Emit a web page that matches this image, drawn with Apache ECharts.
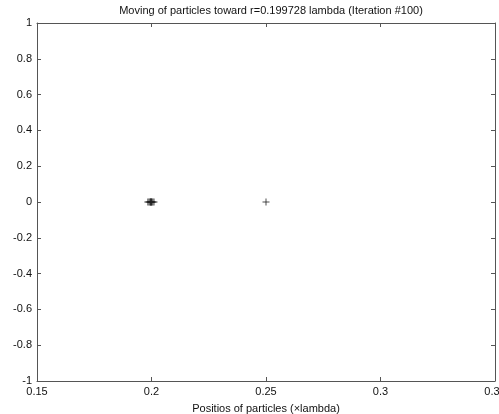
<!DOCTYPE html>
<html>
<head>
<meta charset="utf-8">
<script src="https://cdn.jsdelivr.net/npm/echarts@6/dist/echarts.min.js"></script>
<style>
  html, body { margin: 0; padding: 0; background: #fff; }
  #myChart { width: 499px; height: 414px; }
</style>
</head>
<body>
<div id="myChart"></div>
<script>
// particle positions (x lambda), all on y = 0
var particleX = [0.1984, 0.1989, 0.1993, 0.1996, 0.1997, 0.1998, 0.2000, 0.2002, 0.2006, 0.2011, 0.25];
var particleY = [0, 0, 0, 0, 0, 0, 0, 0, 0, 0, 0];

var xTicks = [0.15, 0.2, 0.25, 0.3, 0.35];
var yTicks = [-1, -0.8, -0.6, -0.4, -0.2, 0, 0.2, 0.4, 0.6, 0.8, 1];

var titleText = 'Moving of particles toward r=0.199728 lambda (Iteration #100)';
var xName = 'Positios of particles (\u00d7lambda)';

var pts = [];
for (var i = 0; i < particleX.length; i++) {
    pts.push([particleX[i], particleY[i]]);
}

var lineCol = '#555';
var fnt = 'Liberation Sans, Arial, sans-serif';

function boxAxis(pos, showLabel, isX) {
    var a = {
        type: 'value',
        position: pos,
        min: isX ? 0.15 : -1,
        max: isX ? 0.35 : 1,
        interval: isX ? 0.05 : 0.2,
        splitLine: { show: false },
        axisLine: { show: true, onZero: false, lineStyle: { color: lineCol, width: 1 } },
        axisTick: { show: true, inside: true, length: 4, lineStyle: { color: lineCol } },
        axisLabel: {
            show: showLabel,
            color: '#111',
            fontFamily: fnt,
            fontSize: 11,
            margin: isX ? 5 : 5,
            formatter: function (v) { return String(+v.toFixed(2)); }
        }
    };
    return a;
}

var myChart = echarts.init(document.getElementById('myChart'), null, { renderer: 'canvas' });

var xa = boxAxis('bottom', true, true);
xa.name = xName;
xa.nameLocation = 'middle';
xa.nameGap = 22;
xa.nameTextStyle = { color: '#111', fontFamily: fnt, fontSize: 11 };
var xa2 = boxAxis('top', false, true);
var ya = boxAxis('left', true, false);
var ya2 = boxAxis('right', false, false);

myChart.setOption({
    animation: false,
    backgroundColor: '#fff',
    title: {
        text: titleText,
        left: 266,
        top: 0,
        textAlign: 'center',
        textStyle: { fontFamily: fnt, fontSize: 11, fontWeight: 'normal', color: '#111' }
    },
    grid: { left: 37, right: 4, top: 23, bottom: 33, containLabel: false, outerBoundsMode: 'none' },
    xAxis: [xa, xa2],
    yAxis: [ya, ya2],
    series: [{
        type: 'scatter',
        xAxisIndex: 0,
        yAxisIndex: 0,
        data: pts,
        symbol: 'path://M0,-1L0,1M-1,0L1,0',
        symbolSize: 7,
        itemStyle: { color: 'none', borderColor: '#222', borderWidth: 1 }
    }]
});
</script>
</body>
</html>
